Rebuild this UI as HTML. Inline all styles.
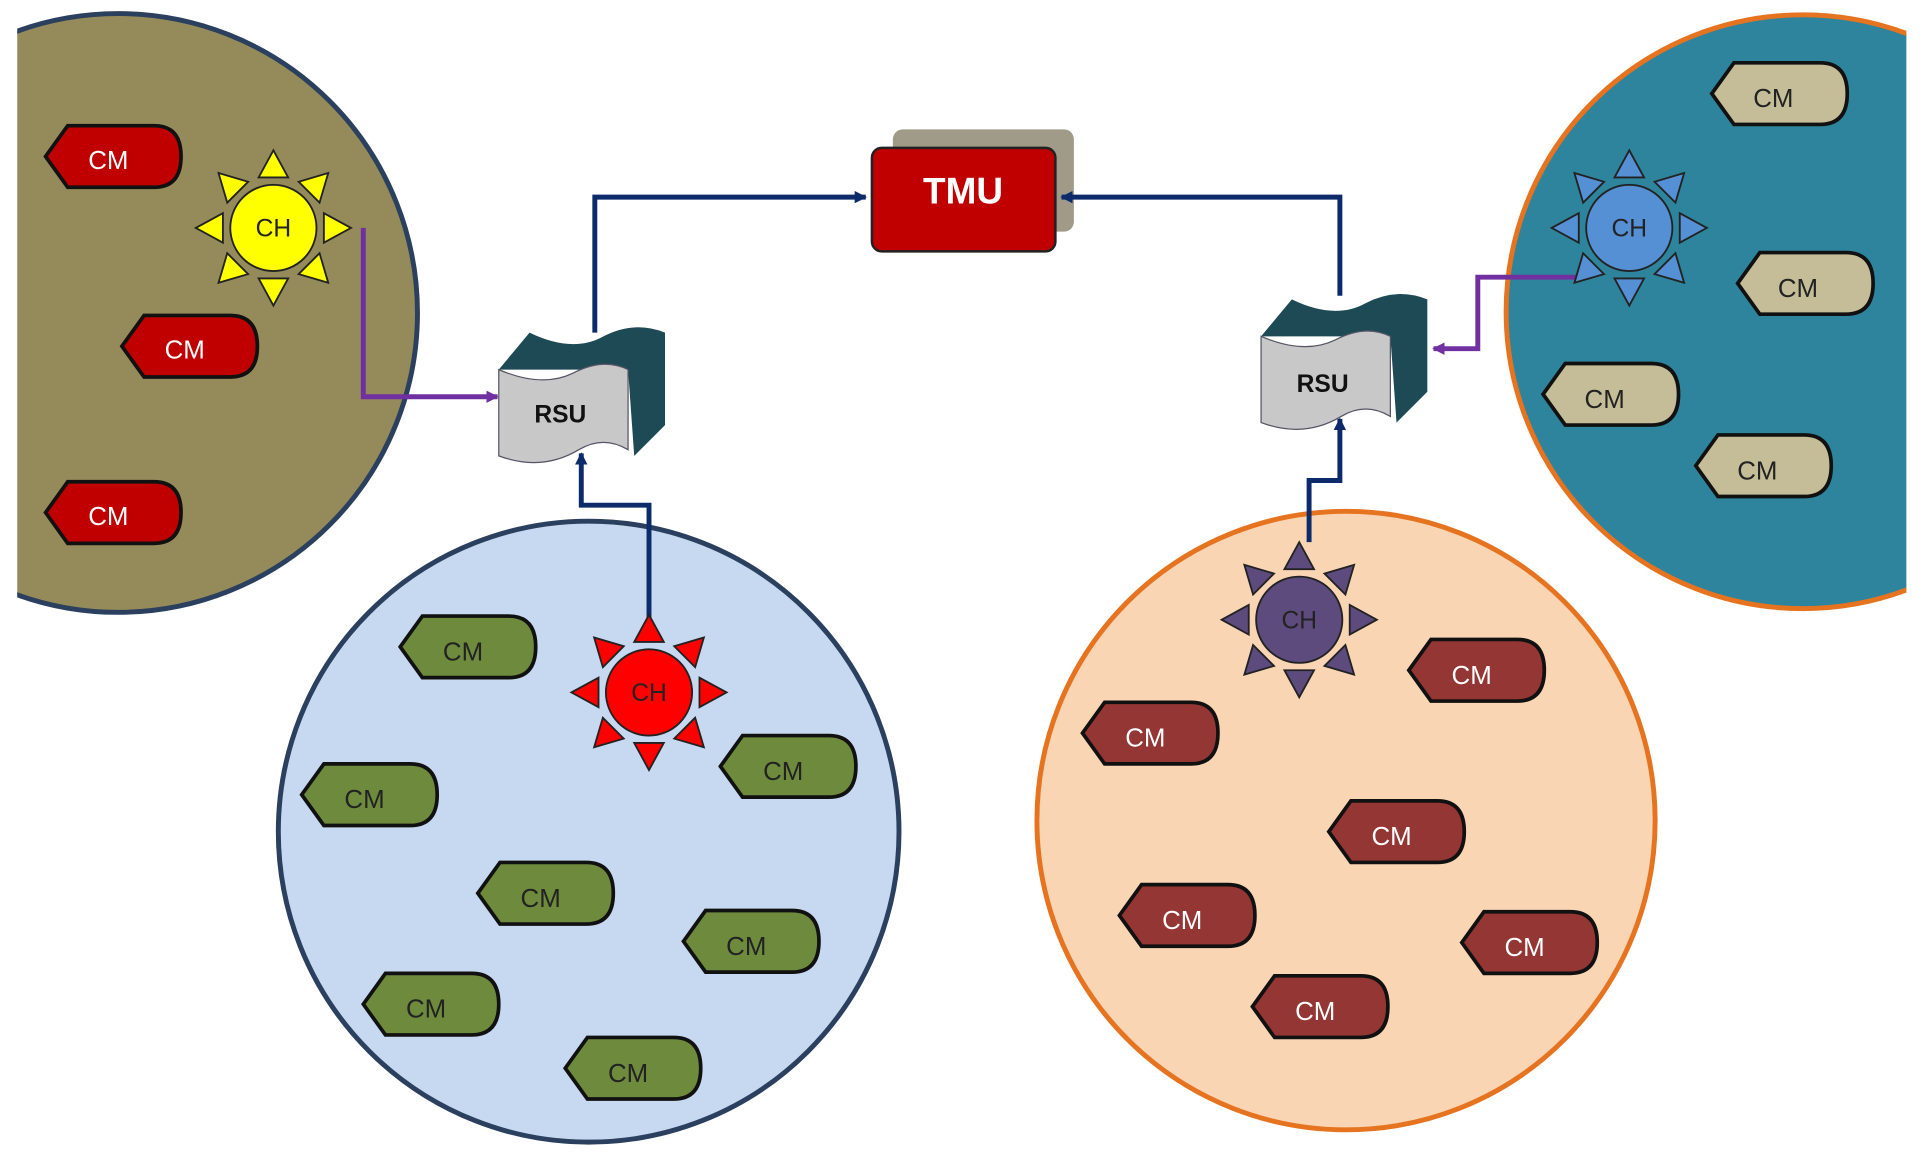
<!DOCTYPE html>
<html><head><meta charset="utf-8"><style>
html,body{margin:0;padding:0;background:#fff;}
svg{display:block;}
text{font-family:"Liberation Sans",sans-serif;}
</style></head><body>
<svg width="1931" height="1152" viewBox="0 0 1568 935" preserveAspectRatio="none" xmlns="http://www.w3.org/2000/svg">
<defs>
<clipPath id="cl"><rect x="14" y="0" width="1534" height="935"/></clipPath>
<g id="sun" stroke="#222" stroke-width="1.5">
 <circle r="35"/>
 <g id="ray"><polygon points="-12,-41 12,-41 0,-63"/></g>
 <use href="#ray" transform="rotate(45)"/><use href="#ray" transform="rotate(90)"/><use href="#ray" transform="rotate(135)"/>
 <use href="#ray" transform="rotate(180)"/><use href="#ray" transform="rotate(225)"/><use href="#ray" transform="rotate(270)"/><use href="#ray" transform="rotate(315)"/>
</g>
<path id="cm" d="M-55,0 L-37,-25 H33 Q55,-25 55,0 Q55,25 33,25 H-37 Z" stroke="#111" stroke-width="3"/>
<g id="rsu">
 <path d="M0,35 L25,5 Q60,22 85,8 Q110,-5 135,5 L135,80 L110,105 L105,35 Z" fill="#1d4a55"/>
 <path d="M0,35 Q35,50 60,38 Q85,25 105,35 L105,100 Q85,88 65,100 Q35,118 0,105 Z" fill="#c8c8c8" stroke="#556" stroke-width="1"/>
</g>
<marker id="ab" markerWidth="10" markerHeight="10" refX="9" refY="5" orient="auto" markerUnits="userSpaceOnUse"><path d="M0,0 L10,5 L0,10 Z" fill="#0d2a6b"/></marker>
<marker id="ap" markerWidth="10" markerHeight="10" refX="9" refY="5" orient="auto" markerUnits="userSpaceOnUse"><path d="M0,0 L10,5 L0,10 Z" fill="#7030a0"/></marker>
</defs>
<g clip-path="url(#cl)">
<circle cx="96" cy="254" r="243" fill="#958b5a" stroke="#2b3f5e" stroke-width="4"/>
<circle cx="1464" cy="253" r="241" fill="#2e849c" stroke="#e6731f" stroke-width="4"/>
</g>
<circle cx="478" cy="675" r="252" fill="#c6d9f0" stroke="#2b3f5e" stroke-width="4"/>
<circle cx="1093" cy="666" r="251" fill="#fad5b4" stroke="#e6731f" stroke-width="4"/>

<!-- TMU -->
<rect x="725" y="105" width="147" height="83" rx="8" fill="#a09a88"/>
<rect x="708" y="120" width="149" height="84" rx="8" fill="#c00000" stroke="#222" stroke-width="2"/>
<text x="782" y="165" font-size="30" font-weight="bold" fill="#fff" text-anchor="middle">TMU</text>

<!-- connectors -->
<g fill="none" stroke-width="4">
<polyline points="483,270 483,160 703,160" stroke="#0d2a6b" marker-end="url(#ab)"/>
<polyline points="1088,240 1088,160 862,160" stroke="#0d2a6b" marker-end="url(#ab)"/>
<polyline points="527,505 527,410 472,410 472,368" stroke="#0d2a6b" marker-end="url(#ab)"/>
<polyline points="1063,440 1063,390 1088,390 1088,340" stroke="#0d2a6b" marker-end="url(#ab)"/>
<polyline points="295,185 295,322 404,322" stroke="#7030a0" marker-end="url(#ap)"/>
<polyline points="1280,225 1200,225 1200,283 1164,283" stroke="#7030a0" marker-end="url(#ap)"/>
</g>

<!-- RSUs -->
<use href="#rsu" transform="translate(405,265)"/>
<text x="455" y="343" font-size="20" font-weight="bold" fill="#111" text-anchor="middle">RSU</text>
<use href="#rsu" transform="translate(1024,238)"/>
<text x="1074" y="318" font-size="20" font-weight="bold" fill="#111" text-anchor="middle">RSU</text>

<!-- suns -->
<g font-size="20" text-anchor="middle" fill="#222">
<use href="#sun" fill="#ffff00" transform="translate(222,185)"/><text x="222" y="192">CH</text>
<use href="#sun" fill="#5590d5" transform="translate(1323,185)"/><text x="1323" y="192">CH</text>
<use href="#sun" fill="#ff0000" transform="translate(527,562)"/><text x="527" y="569">CH</text>
<use href="#sun" fill="#5e4b7e" transform="translate(1055,503)"/><text x="1055" y="510">CH</text>
</g>

<!-- CMs -->
<g font-size="21" text-anchor="middle">
<g fill="#c00000"><use href="#cm" transform="translate(92,127)"/><use href="#cm" transform="translate(154,281)"/><use href="#cm" transform="translate(92,416)"/></g>
<g fill="#fff"><text x="88" y="137">CM</text><text x="150" y="291">CM</text><text x="88" y="426">CM</text></g>

<g fill="#c4bd97"><use href="#cm" transform="translate(1445,76)"/><use href="#cm" transform="translate(1466,230)"/><use href="#cm" transform="translate(1308,320)"/><use href="#cm" transform="translate(1432,378)"/></g>
<g fill="#222"><text x="1440" y="87">CM</text><text x="1460" y="241">CM</text><text x="1303" y="331">CM</text><text x="1427" y="389">CM</text></g>

<g fill="#6e8b3d"><use href="#cm" transform="translate(380,525)"/><use href="#cm" transform="translate(640,622)"/><use href="#cm" transform="translate(300,645)"/><use href="#cm" transform="translate(443,725)"/><use href="#cm" transform="translate(610,764)"/><use href="#cm" transform="translate(350,815)"/><use href="#cm" transform="translate(514,867)"/></g>
<g fill="#222"><text x="376" y="536">CM</text><text x="636" y="633">CM</text><text x="296" y="656">CM</text><text x="439" y="736">CM</text><text x="606" y="775">CM</text><text x="346" y="826">CM</text><text x="510" y="878">CM</text></g>

<g fill="#943634"><use href="#cm" transform="translate(934,595)"/><use href="#cm" transform="translate(1199,544)"/><use href="#cm" transform="translate(1134,675)"/><use href="#cm" transform="translate(964,743)"/><use href="#cm" transform="translate(1242,765)"/><use href="#cm" transform="translate(1072,817)"/></g>
<g fill="#fff"><text x="930" y="606">CM</text><text x="1195" y="555">CM</text><text x="1130" y="686">CM</text><text x="960" y="754">CM</text><text x="1238" y="776">CM</text><text x="1068" y="828">CM</text></g>
</g>
</svg>
</body></html>
